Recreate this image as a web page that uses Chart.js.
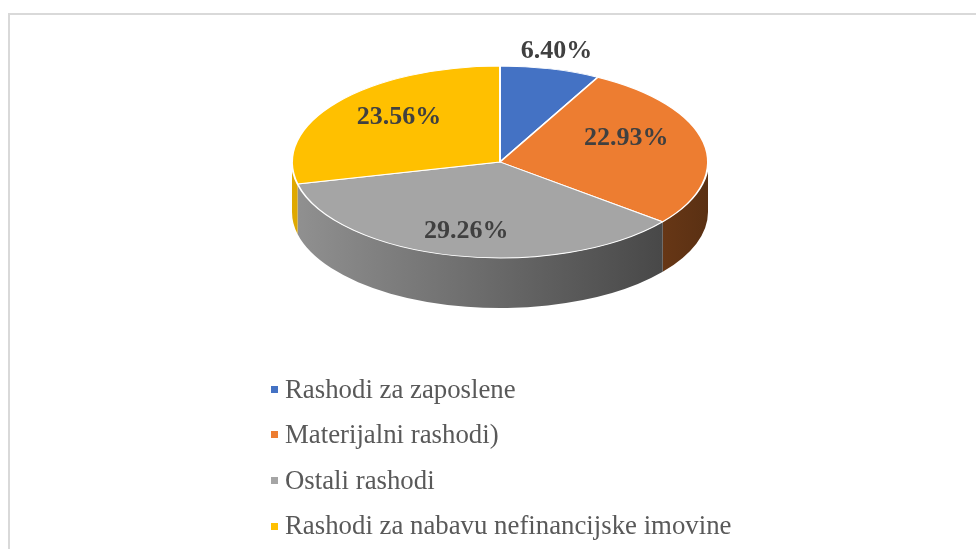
<!DOCTYPE html>
<html>
<head>
<meta charset="utf-8">
<title>Rashodi</title>
<script src="https://cdn.jsdelivr.net/npm/chart.js@4.4.1/dist/chart.umd.min.js"></script>
<style>
  html, body { margin: 0; padding: 0; background: #fff; }
  #wrap { position: relative; width: 976px; height: 549px; overflow: hidden; }
  #frame {
    position: absolute; left: 8px; top: 13px; width: 1100px; height: 700px;
    border: 2px solid #d9d9d9; box-sizing: border-box;
  }
  #chart-box { position: absolute; left: 0; top: 0; width: 976px; height: 549px; }
  #legend {
    position: absolute; left: 271px; top: 366.5px; margin: 0; padding: 0; list-style: none;
    font-family: "Liberation Serif", "Times New Roman", serif; font-size: 26.8px; color: #595959;
  }
  #legend li { display: flex; align-items: center; height: 45.6px; }
  #legend li span.txt { line-height: 45.6px; white-space: nowrap; }
  #legend li span.box { width: 7px; height: 7px; margin-right: 7px; flex: none; }
</style>
</head>
<body>
<div id="wrap">
  <div id="frame"></div>
  <div id="chart-box"><canvas id="pie"></canvas></div>
  <ul id="legend"></ul>
</div>
<script>
// chart data
const categories = [
  'Rashodi za zaposlene',
  'Materijalni rashodi)',
  'Ostali rashodi',
  'Rashodi za nabavu nefinancijske imovine'
];
const shares = [6.40, 22.93, 29.26, 23.56];
const sliceColors = ['#4472C4', '#ED7D31', '#A5A5A5', '#FFC000'];

// darken a hex colour by factor k
function shade(hex, k) {
  const n = parseInt(hex.slice(1), 16);
  const r = Math.round(((n >> 16) & 255) * k);
  const g = Math.round(((n >> 8) & 255) * k);
  const b = Math.round((n & 255) * k);
  return `rgb(${r},${g},${b})`;
}

// squash the flat pie into a tilted disc and draw its side wall
const tiltPie = {
  id: 'tiltPie',
  beforeDatasetsDraw(chart, args, opts) {
    const ctx = chart.ctx;
    const arcs = chart.getDatasetMeta(0).data;
    if (!arcs.length) return;
    const a0 = arcs[0];
    const { cx, cy, rx, ry, depth } = opts;

    // side wall, only the front half (canvas angles 0..PI) shows
    arcs.forEach((arc, i) => {
      const lo = Math.max(arc.startAngle, 0);
      const hi = Math.min(arc.endAngle, Math.PI);
      if (hi <= lo) return;
      const col = chart.data.datasets[0].backgroundColor[i];
      ctx.save();
      ctx.beginPath();
      ctx.ellipse(cx, cy, rx, ry, 0, lo, hi);
      ctx.lineTo(cx + rx * Math.cos(hi), cy + ry * Math.sin(hi) + depth);
      ctx.ellipse(cx, cy + depth, rx, ry, 0, hi, lo, true);
      ctx.closePath();
      const grad = ctx.createLinearGradient(cx - rx, 0, cx + rx, 0);
      grad.addColorStop(0, shade(col, 0.88));
      grad.addColorStop(1, shade(col, 0.38));
      ctx.fillStyle = grad;
      ctx.fill();
      ctx.restore();
    });

    ctx.save();
    ctx.translate(cx, cy);
    ctx.scale(rx / a0.outerRadius, ry / a0.outerRadius);
    ctx.translate(-a0.x, -a0.y);
  },
  afterDatasetsDraw(chart, args, opts) {
    const ctx = chart.ctx;
    const arcs = chart.getDatasetMeta(0).data;
    if (!arcs.length) return;
    ctx.restore();

    const { cx, cy, rx, ry } = opts;
    ctx.save();
    ctx.font = 'bold 26px "Liberation Serif", "Times New Roman", serif';
    ctx.fillStyle = '#404040';
    ctx.textAlign = 'center';
    ctx.textBaseline = 'middle';
    arcs.forEach((arc, i) => {
      const mid = (arc.startAngle + arc.endAngle) / 2;
      const f = opts.labelRadius[i];
      const x = cx + rx * f * Math.cos(mid);
      const y = cy + ry * f * Math.sin(mid) + opts.labelLift[i];
      ctx.fillText(shares[i].toFixed(2) + '%', x, y);
    });
    ctx.restore();
  }
};

const chart = new Chart(document.getElementById('pie'), {
  type: 'pie',
  data: {
    labels: categories,
    datasets: [{
      data: shares,
      backgroundColor: sliceColors,
      borderColor: '#ffffff',
      borderWidth: 2,
      clip: false
    }]
  },
  options: {
    responsive: true,
    maintainAspectRatio: false,
    animation: false,
    events: [],
    layout: { padding: { left: 292, right: 268, top: 0, bottom: 0 } },
    plugins: {
      legend: { display: false },
      tooltip: { enabled: false },
      tiltPie: {
        cx: 500, cy: 162, rx: 208, ry: 96, depth: 50,
        labelRadius: [1.12, 0.62, 0.74, 0.62],
        labelLift: [-6, -12, 0, -8]
      }
    }
  },
  plugins: [tiltPie]
});

// legend list built from the chart's own legend items
const legendEl = document.getElementById('legend');
const items = chart.options.plugins.legend.labels.generateLabels(chart);
items.forEach(item => {
  const li = document.createElement('li');
  const box = document.createElement('span');
  box.className = 'box';
  box.style.background = item.fillStyle;
  const txt = document.createElement('span');
  txt.className = 'txt';
  txt.textContent = item.text;
  li.appendChild(box);
  li.appendChild(txt);
  legendEl.appendChild(li);
});
</script>
</body>
</html>
